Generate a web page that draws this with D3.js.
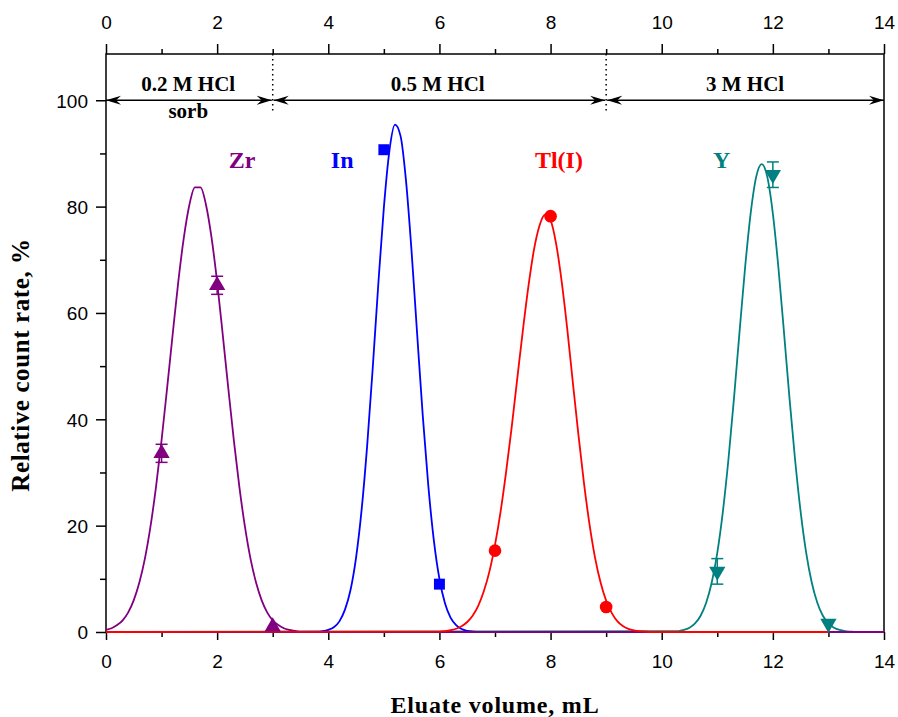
<!DOCTYPE html>
<html>
<head>
<meta charset="utf-8">
<script src="https://cdn.jsdelivr.net/npm/d3@7"></script>
<style>
  body { margin: 0; background: #fff; }
  svg { display: block; }
</style>
</head>
<body>
<div id="chart"></div>
<script>
// elution curves (eluate volume, mL / relative count rate, %)
var zrVol = [0.0,0.1,0.2,0.3,0.4,0.5,0.6,0.7,0.8,0.9,1.0,1.1,1.2,1.3,1.4,1.5,1.6,1.7,1.8,1.9,2.0,2.1,2.2,2.3,2.4,2.5,2.6,2.7,2.8,2.9,3.0,3.1,3.2,3.3,3.4,3.5,14];
var zrRate = [0.4,0.7,1.3,2.2,3.7,6.0,9.3,13.8,19.8,27.3,36.1,45.9,56.0,65.8,74.1,80.3,83.6,83.6,80.3,74.1,65.8,56.0,45.9,36.1,27.3,19.8,13.8,9.3,6.0,3.7,2.2,1.3,0.7,0.4,0.2,0,0];

var inVol = [0,3.8,3.9,4.0,4.1,4.2,4.3,4.4,4.5,4.6,4.7,4.8,4.9,5.0,5.1,5.2,5.3,5.4,5.5,5.6,5.7,5.8,5.9,6.0,6.1,6.2,6.3,6.4,6.5,6.6,6.7,14];
var inRate = [0,0.05,0.15,0.4,0.9,2.0,4.2,7.9,14.0,23.0,35.1,49.7,65.4,79.8,90.5,95.4,93.3,84.7,71.4,55.9,40.7,27.5,17.2,10.0,5.4,2.7,1.3,0.55,0.22,0.08,0,0];

var tlVol = [0,6.0,6.1,6.2,6.3,6.4,6.5,6.6,6.7,6.8,6.9,7.0,7.1,7.2,7.3,7.4,7.5,7.6,7.7,7.8,7.9,8.0,8.1,8.2,8.3,8.4,8.5,8.6,8.7,8.8,8.9,9.0,9.1,9.2,9.3,9.4,9.5,9.6,9.7,9.8,13];
var tlRate = [0,0.08,0.17,0.33,0.61,1.09,1.88,3.12,4.98,7.7,11.4,16.4,22.6,30.1,38.5,47.6,56.6,64.9,71.8,76.4,78.5,77.4,73.0,65.9,57.0,47.0,37.2,28.1,20.3,14.0,9.3,5.9,3.6,2.06,1.14,0.6,0.31,0.15,0.07,0,0];

var yVol = [0,10.3,10.4,10.5,10.6,10.7,10.8,10.9,11.0,11.1,11.2,11.3,11.4,11.5,11.6,11.7,11.8,11.9,12.0,12.1,12.2,12.3,12.4,12.5,12.6,12.7,12.8,12.9,13.0,13.1,13.2,13.3,13.4,13.5,14];
var yRate = [0,0.17,0.38,0.8,1.61,3.05,5.5,9.3,14.9,22.6,32.4,43.9,56.4,68.5,78.7,85.6,88.0,85.6,78.7,68.5,56.4,43.9,32.4,22.6,14.9,9.3,5.5,3.05,1.61,0.8,0.38,0.17,0.07,0,0];

// measured points with error bars
var zrPtVol = [1, 2, 3];
var zrPtRate = [33.6, 65.2, 1.0];
var zrPtErr = [1.7, 1.7, 0];
var inPtVol = [5, 6];
var inPtRate = [90.7, 9.0];
var inPtErr = [0, 0];
var tlPtVol = [7, 8, 9];
var tlPtRate = [15.3, 78.2, 4.7];
var tlPtErr = [0, 0, 0];
var yPtVol = [11, 12, 13];
var yPtRate = [11.4, 86.0, 1.6];
var yPtErr = [2.4, 2.4, 0];

// eluent zones
var zoneStart = [0, 3, 9];
var zoneEnd = [3, 9, 14];
var zoneLabel = ["0.2 M HCl", "0.5 M HCl", "3 M HCl"];
var zoneLabelX = [1.48, 5.97, 11.5];

var xTicks = [0, 2, 4, 6, 8, 10, 12, 14];
var yTicks = [0, 20, 40, 60, 80, 100];

(function () {
    var width = 898, height = 717;
    var left = 106, right = 884, top = 54, bottom = 632;

    var svg = d3.select("#chart")
        .append("svg")
        .attr("width", width)
        .attr("height", height);

    var x = d3.scaleLinear().domain([0, 14]).range([left, right]);
    var y = d3.scaleLinear().domain([0, 108.7]).range([bottom, top]);

    var tickFont = "'Liberation Sans', Arial, sans-serif";
    var serif = "'Liberation Serif', 'Times New Roman', serif";

    // arrowhead marker
    var defs = svg.append("defs");
    defs.append("marker")
        .attr("id", "arr")
        .attr("viewBox", "-15 -5 16 10")
        .attr("refX", 0).attr("refY", 0)
        .attr("markerWidth", 16).attr("markerHeight", 10)
        .attr("markerUnits", "userSpaceOnUse")
        .attr("orient", "auto-start-reverse")
        .append("path")
        .attr("d", "M0,0 L-15,-4.5 L-10,0 L-15,4.5 Z")
        .attr("fill", "#000");

    // bottom axis
    var gb = svg.append("g")
        .attr("transform", "translate(0," + bottom + ")")
        .call(d3.axisBottom(x).tickValues(d3.range(0, 14.01, 1)).tickSize(0).tickFormat(""));
    gb.select(".domain").remove();
    gb.selectAll(".tick line").remove();
    gb.selectAll(".tick").append("line")
        .attr("y2", function (d) { return d % 2 === 0 ? 8 : 5; })
        .attr("stroke", "#000").attr("stroke-width", 1.5);
    gb.selectAll(".tick").filter(function (d) { return xTicks.indexOf(d) >= 0; })
        .append("text")
        .attr("y", 36)
        .attr("fill", "#000")
        .style("font-family", tickFont)
        .style("font-size", "19px")
        .attr("text-anchor", "middle")
        .text(function (d) { return d; });

    // top axis
    var gt = svg.append("g")
        .attr("transform", "translate(0," + top + ")")
        .call(d3.axisTop(x).tickValues(d3.range(0, 14.01, 1)).tickSize(0).tickFormat(""));
    gt.select(".domain").remove();
    gt.selectAll(".tick line").remove();
    gt.selectAll(".tick").append("line")
        .attr("y2", function (d) { return d % 2 === 0 ? -10 : -5; })
        .attr("stroke", "#000").attr("stroke-width", 1.5);
    gt.selectAll(".tick").filter(function (d) { return xTicks.indexOf(d) >= 0; })
        .append("text")
        .attr("y", -25)
        .attr("fill", "#000")
        .style("font-family", tickFont)
        .style("font-size", "19px")
        .attr("text-anchor", "middle")
        .text(function (d) { return d; });

    // left axis
    var gl = svg.append("g")
        .attr("transform", "translate(" + left + ",0)")
        .call(d3.axisLeft(y).tickValues(d3.range(0, 101, 10)).tickSize(0).tickFormat(""));
    gl.select(".domain").remove();
    gl.selectAll(".tick line").remove();
    gl.selectAll(".tick").append("line")
        .attr("x2", function (d) { return d % 20 === 0 ? -10 : -6; })
        .attr("stroke", "#000").attr("stroke-width", 1.5);
    gl.selectAll(".tick").filter(function (d) { return yTicks.indexOf(d) >= 0; })
        .append("text")
        .attr("x", -18)
        .attr("dy", "0.36em")
        .attr("fill", "#000")
        .style("font-family", tickFont)
        .style("font-size", "19px")
        .attr("text-anchor", "end")
        .text(function (d) { return d; });

    // frame
    svg.append("rect")
        .attr("x", left).attr("y", top)
        .attr("width", right - left).attr("height", bottom - top)
        .attr("fill", "none").attr("stroke", "#000").attr("stroke-width", 1.5);

    // zone separators
    [3, 9].forEach(function (v) {
        svg.append("line")
            .attr("x1", x(v)).attr("x2", x(v))
            .attr("y1", top).attr("y2", y(97.5))
            .attr("stroke", "#000").attr("stroke-width", 1.5)
            .attr("stroke-dasharray", "1.5,3.5");
    });

    // zone arrows
    zoneStart.forEach(function (s, i) {
        svg.append("line")
            .attr("x1", x(s) + (i === 0 ? 0 : 1)).attr("x2", x(zoneEnd[i]) - (i === 2 ? 0 : 1))
            .attr("y1", y(100)).attr("y2", y(100))
            .attr("stroke", "#000").attr("stroke-width", 1.3)
            .attr("marker-start", "url(#arr)")
            .attr("marker-end", "url(#arr)");
        svg.append("text")
            .attr("x", x(zoneLabelX[i])).attr("y", 91)
            .attr("text-anchor", "middle")
            .style("font-family", serif).style("font-weight", "bold").style("font-size", "21px")
            .text(zoneLabel[i]);
    });
    svg.append("text")
        .attr("x", x(1.48)).attr("y", 118)
        .attr("text-anchor", "middle")
        .style("font-family", serif).style("font-weight", "bold").style("font-size", "21px")
        .text("sorb");

    // curves
    var line = d3.line()
        .x(function (d) { return x(d[0]); })
        .y(function (d) { return y(d[1]); })
        .curve(d3.curveMonotoneX);

    var series = [
        { vol: yVol, rate: yRate, color: "#008080" },
        { vol: inVol, rate: inRate, color: "#0000ff" },
        { vol: zrVol, rate: zrRate, color: "#800080" },
        { vol: tlVol, rate: tlRate, color: "#ff0000" }
    ];
    series.forEach(function (s) {
        svg.append("path")
            .datum(d3.zip(s.vol, s.rate))
            .attr("d", line)
            .attr("fill", "none")
            .attr("stroke", s.color)
            .attr("stroke-width", 1.8);
    });

    // error bars
    function errBars(vols, rates, errs, color) {
        vols.forEach(function (v, i) {
            if (!errs[i]) return;
            var g = svg.append("g").attr("stroke", color).attr("stroke-width", 1.5);
            g.append("line").attr("x1", x(v)).attr("x2", x(v))
                .attr("y1", y(rates[i] - errs[i])).attr("y2", y(rates[i] + errs[i]));
            [rates[i] - errs[i], rates[i] + errs[i]].forEach(function (e) {
                g.append("line").attr("x1", x(v) - 6).attr("x2", x(v) + 6)
                    .attr("y1", y(e)).attr("y2", y(e));
            });
        });
    }
    errBars(zrPtVol, zrPtRate, zrPtErr, "#800080");
    errBars(yPtVol, yPtRate, yPtErr, "#008080");

    function points(vols, rates, type, size, color) {
        svg.selectAll(null)
            .data(d3.zip(vols, rates))
            .enter()
            .append("path")
            .attr("transform", function (d) { return "translate(" + x(d[0]) + "," + y(d[1]) + ")" + (type === "down" ? " rotate(180)" : ""); })
            .attr("d", d3.symbol().type(type === "square" ? d3.symbolSquare : type === "circle" ? d3.symbolCircle : d3.symbolTriangle).size(size))
            .attr("fill", color);
    }
    points(zrPtVol, zrPtRate, "up", 115, "#800080");
    points(inPtVol, inPtRate, "square", 120, "#0000ff");
    points(tlPtVol, tlPtRate, "circle", 125, "#ff0000");
    points(yPtVol, yPtRate, "down", 115, "#008080");

    // species labels
    var labels = [
        { t: "Zr", v: 2.45, c: "#800080" },
        { t: "In", v: 4.25, c: "#0000ff" },
        { t: "Tl(I)", v: 8.15, c: "#ff0000" },
        { t: "Y", v: 11.08, c: "#008080" }
    ];
    labels.forEach(function (l) {
        svg.append("text")
            .attr("x", x(l.v)).attr("y", 168)
            .attr("text-anchor", "middle")
            .attr("fill", l.c)
            .style("font-family", serif).style("font-weight", "bold").style("font-size", "24px")
            .text(l.t);
    });

    // axis titles
    svg.append("text")
        .attr("transform", "translate(29," + ((top + bottom) / 2 + 22) + ") rotate(-90)")
        .attr("text-anchor", "middle")
        .style("font-family", serif).style("font-weight", "bold").style("font-size", "25px")
        .style("letter-spacing", "0.6px")
        .text("Relative count rate, %");
    svg.append("text")
        .attr("x", (left + right) / 2).attr("y", 713)
        .attr("text-anchor", "middle")
        .style("font-family", serif).style("font-weight", "bold").style("font-size", "24px")
        .style("letter-spacing", "0.8px")
        .text("Eluate volume, mL");
})();
</script>
</body>
</html>
